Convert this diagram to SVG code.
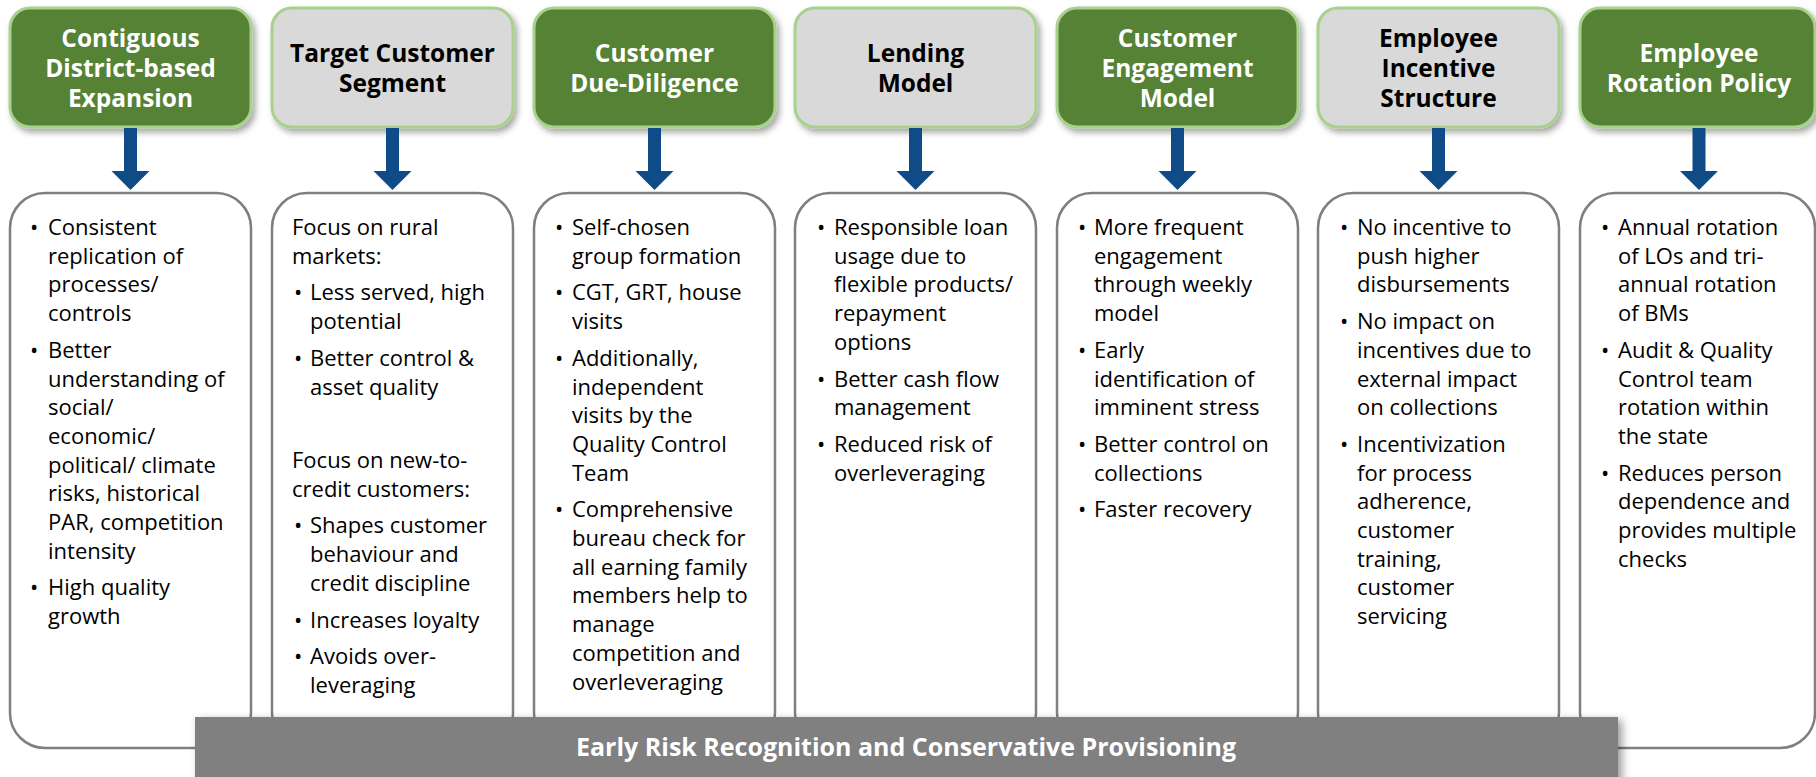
<svg xmlns="http://www.w3.org/2000/svg" width="1816" height="777" viewBox="0 0 1816 777">
<defs>
<filter id="sh" x="-10%" y="-10%" width="130%" height="140%">
<feDropShadow dx="3" dy="4" stdDeviation="3" flood-color="#000" flood-opacity="0.35"/>
</filter>
<filter id="sh2" x="-5%" y="-20%" width="110%" height="160%">
<feDropShadow dx="4" dy="3" stdDeviation="4" flood-color="#000" flood-opacity="0.4"/>
</filter>
</defs>
<style>
.hg{fill:#548235;stroke:#a9d18e;stroke-width:3}
.hy{fill:#d9d9d9;stroke:#a9d18e;stroke-width:3}
.ht{font-family:"Segoe UI","Open Sans","Noto Sans",sans-serif;font-weight:700;font-size:24.5px;text-anchor:middle}
.w{fill:#ffffff}
.k{fill:#000000}
.bx{fill:#ffffff;stroke:#7f7f7f;stroke-width:2.5}
.bt{font-family:"Segoe UI","Open Sans","Noto Sans",sans-serif;font-size:22px;fill:#000}
.ar{fill:#0f4b87}
.bar{fill:#808080}
.btt{font-family:"Segoe UI","Open Sans","Noto Sans",sans-serif;font-weight:700;font-size:25px;fill:#fff;text-anchor:middle}
</style>

<g id="body1"><rect class="bx" x="10" y="193" width="241" height="555" rx="35"/>
<text class="bt"><tspan x="30" y="235">•</tspan><tspan x="48" y="235">Consistent</tspan><tspan x="48" y="263.7">replication of</tspan><tspan x="48" y="292.4">processes/</tspan><tspan x="48" y="321.1">controls</tspan><tspan x="30" y="357.8">•</tspan><tspan x="48" y="357.8">Better</tspan><tspan x="48" y="386.5">understanding of</tspan><tspan x="48" y="415.2">social/</tspan><tspan x="48" y="443.9">economic/</tspan><tspan x="48" y="472.6">political/ climate</tspan><tspan x="48" y="501.3">risks, historical</tspan><tspan x="48" y="530">PAR, competition</tspan><tspan x="48" y="558.7">intensity</tspan><tspan x="30" y="595.4">•</tspan><tspan x="48" y="595.4">High quality</tspan><tspan x="48" y="624.1">growth</tspan></text></g>

<g id="body2"><rect class="bx" x="272" y="193" width="241" height="555" rx="35"/>
<text class="bt"><tspan x="292" y="235">Focus on rural</tspan><tspan x="292" y="263.7">markets:</tspan><tspan x="294" y="300.4">•</tspan><tspan x="310" y="300.4">Less served, high</tspan><tspan x="310" y="329.1">potential</tspan><tspan x="294" y="365.8">•</tspan><tspan x="310" y="365.8">Better control &amp;</tspan><tspan x="310" y="394.5">asset quality</tspan><tspan x="292" y="468">Focus on new-to-</tspan><tspan x="292" y="496.7">credit customers:</tspan><tspan x="294" y="533.4">•</tspan><tspan x="310" y="533.4">Shapes customer</tspan><tspan x="310" y="562.1">behaviour and</tspan><tspan x="310" y="590.8">credit discipline</tspan><tspan x="294" y="627.5">•</tspan><tspan x="310" y="627.5">Increases loyalty</tspan><tspan x="294" y="664.2">•</tspan><tspan x="310" y="664.2">Avoids over-</tspan><tspan x="310" y="692.9">leveraging</tspan></text></g>

<g id="body3"><rect class="bx" x="534" y="193" width="241" height="555" rx="35"/>
<text class="bt"><tspan x="555" y="235">•</tspan><tspan x="572" y="235">Self-chosen</tspan><tspan x="572" y="263.7">group formation</tspan><tspan x="555" y="300.4">•</tspan><tspan x="572" y="300.4">CGT, GRT, house</tspan><tspan x="572" y="329.1">visits</tspan><tspan x="555" y="365.8">•</tspan><tspan x="572" y="365.8">Additionally,</tspan><tspan x="572" y="394.5">independent</tspan><tspan x="572" y="423.2">visits by the</tspan><tspan x="572" y="451.9">Quality Control</tspan><tspan x="572" y="480.6">Team</tspan><tspan x="555" y="517.3">•</tspan><tspan x="572" y="517.3">Comprehensive</tspan><tspan x="572" y="546">bureau check for</tspan><tspan x="572" y="574.7">all earning family</tspan><tspan x="572" y="603.4">members help to</tspan><tspan x="572" y="632.1">manage</tspan><tspan x="572" y="660.8">competition and</tspan><tspan x="572" y="689.5">overleveraging</tspan></text></g>

<g id="body4"><rect class="bx" x="795" y="193" width="241" height="555" rx="35"/>
<text class="bt"><tspan x="817" y="235">•</tspan><tspan x="834" y="235">Responsible loan</tspan><tspan x="834" y="263.7">usage due to</tspan><tspan x="834" y="292.4">flexible products/</tspan><tspan x="834" y="321.1">repayment</tspan><tspan x="834" y="349.8">options</tspan><tspan x="817" y="386.5">•</tspan><tspan x="834" y="386.5">Better cash flow</tspan><tspan x="834" y="415.2">management</tspan><tspan x="817" y="451.9">•</tspan><tspan x="834" y="451.9">Reduced risk of</tspan><tspan x="834" y="480.6">overleveraging</tspan></text></g>

<g id="body5"><rect class="bx" x="1057" y="193" width="241" height="555" rx="35"/>
<text class="bt"><tspan x="1078" y="235">•</tspan><tspan x="1094" y="235">More frequent</tspan><tspan x="1094" y="263.7">engagement</tspan><tspan x="1094" y="292.4">through weekly</tspan><tspan x="1094" y="321.1">model</tspan><tspan x="1078" y="357.8">•</tspan><tspan x="1094" y="357.8">Early</tspan><tspan x="1094" y="386.5">identification of</tspan><tspan x="1094" y="415.2">imminent stress</tspan><tspan x="1078" y="451.9">•</tspan><tspan x="1094" y="451.9">Better control on</tspan><tspan x="1094" y="480.6">collections</tspan><tspan x="1078" y="517.3">•</tspan><tspan x="1094" y="517.3">Faster recovery</tspan></text></g>

<g id="body6"><rect class="bx" x="1318" y="193" width="241" height="555" rx="35"/>
<text class="bt"><tspan x="1340" y="235">•</tspan><tspan x="1357" y="235">No incentive to</tspan><tspan x="1357" y="263.7">push higher</tspan><tspan x="1357" y="292.4">disbursements</tspan><tspan x="1340" y="329.1">•</tspan><tspan x="1357" y="329.1">No impact on</tspan><tspan x="1357" y="357.8">incentives due to</tspan><tspan x="1357" y="386.5">external impact</tspan><tspan x="1357" y="415.2">on collections</tspan><tspan x="1340" y="451.9">•</tspan><tspan x="1357" y="451.9">Incentivization</tspan><tspan x="1357" y="480.6">for process</tspan><tspan x="1357" y="509.3">adherence,</tspan><tspan x="1357" y="538">customer</tspan><tspan x="1357" y="566.7">training,</tspan><tspan x="1357" y="595.4">customer</tspan><tspan x="1357" y="624.1">servicing</tspan></text></g>

<g id="body7"><rect class="bx" x="1580" y="193" width="235" height="555" rx="35"/>
<text class="bt"><tspan x="1601" y="235">•</tspan><tspan x="1618" y="235">Annual rotation</tspan><tspan x="1618" y="263.7">of LOs and tri-</tspan><tspan x="1618" y="292.4">annual rotation</tspan><tspan x="1618" y="321.1">of BMs</tspan><tspan x="1601" y="357.8">•</tspan><tspan x="1618" y="357.8">Audit &amp; Quality</tspan><tspan x="1618" y="386.5">Control team</tspan><tspan x="1618" y="415.2">rotation within</tspan><tspan x="1618" y="443.9">the state</tspan><tspan x="1601" y="480.6">•</tspan><tspan x="1618" y="480.6">Reduces person</tspan><tspan x="1618" y="509.3">dependence and</tspan><tspan x="1618" y="538">provides multiple</tspan><tspan x="1618" y="566.7">checks</tspan></text></g>

<g id="head1"><rect class="hg" x="10" y="8" width="241" height="119" rx="20" filter="url(#sh)"/>
<text class="ht w"><tspan x="130.5" y="47">Contiguous</tspan><tspan x="130.5" y="77">District-based</tspan><tspan x="130.5" y="107">Expansion</tspan></text></g>
<g id="head2"><rect class="hy" x="272" y="8" width="241" height="119" rx="20" filter="url(#sh)"/>
<text class="ht k"><tspan x="392.5" y="62">Target Customer</tspan><tspan x="392.5" y="92">Segment</tspan></text></g>
<g id="head3"><rect class="hg" x="534" y="8" width="241" height="119" rx="20" filter="url(#sh)"/>
<text class="ht w"><tspan x="654.5" y="62">Customer</tspan><tspan x="654.5" y="92">Due-Diligence</tspan></text></g>
<g id="head4"><rect class="hy" x="795" y="8" width="241" height="119" rx="20" filter="url(#sh)"/>
<text class="ht k"><tspan x="915.5" y="62">Lending</tspan><tspan x="915.5" y="92">Model</tspan></text></g>
<g id="head5"><rect class="hg" x="1057" y="8" width="241" height="119" rx="20" filter="url(#sh)"/>
<text class="ht w"><tspan x="1177.5" y="47">Customer</tspan><tspan x="1177.5" y="77">Engagement</tspan><tspan x="1177.5" y="107">Model</tspan></text></g>
<g id="head6"><rect class="hy" x="1318" y="8" width="241" height="119" rx="20" filter="url(#sh)"/>
<text class="ht k"><tspan x="1438.5" y="47">Employee</tspan><tspan x="1438.5" y="77">Incentive</tspan><tspan x="1438.5" y="107">Structure</tspan></text></g>
<g id="head7"><rect class="hg" x="1580" y="8" width="235" height="119" rx="20" filter="url(#sh)"/>
<text class="ht w"><tspan x="1699" y="62">Employee</tspan><tspan x="1699" y="92">Rotation Policy</tspan></text></g>

<g id="connectors">
<polygon class="ar" points="124,128 137,128 137,171 149.5,171 130.5,190 111.5,171 124,171"/>
<polygon class="ar" points="386,128 399,128 399,171 411.5,171 392.5,190 373.5,171 386,171"/>
<polygon class="ar" points="648,128 661,128 661,171 673.5,171 654.5,190 635.5,171 648,171"/>
<polygon class="ar" points="909,128 922,128 922,171 934.5,171 915.5,190 896.5,171 909,171"/>
<polygon class="ar" points="1171,128 1184,128 1184,171 1196.5,171 1177.5,190 1158.5,171 1171,171"/>
<polygon class="ar" points="1432,128 1445,128 1445,171 1457.5,171 1438.5,190 1419.5,171 1432,171"/>
<polygon class="ar" points="1692.5,128 1705.5,128 1705.5,171 1718,171 1699,190 1680,171 1692.5,171"/>
</g>

<g id="footer"><rect class="bar" x="195" y="717" width="1423" height="65" filter="url(#sh2)"/>
<text class="btt" x="906" y="756">Early Risk Recognition and Conservative Provisioning</text></g>
</svg>
